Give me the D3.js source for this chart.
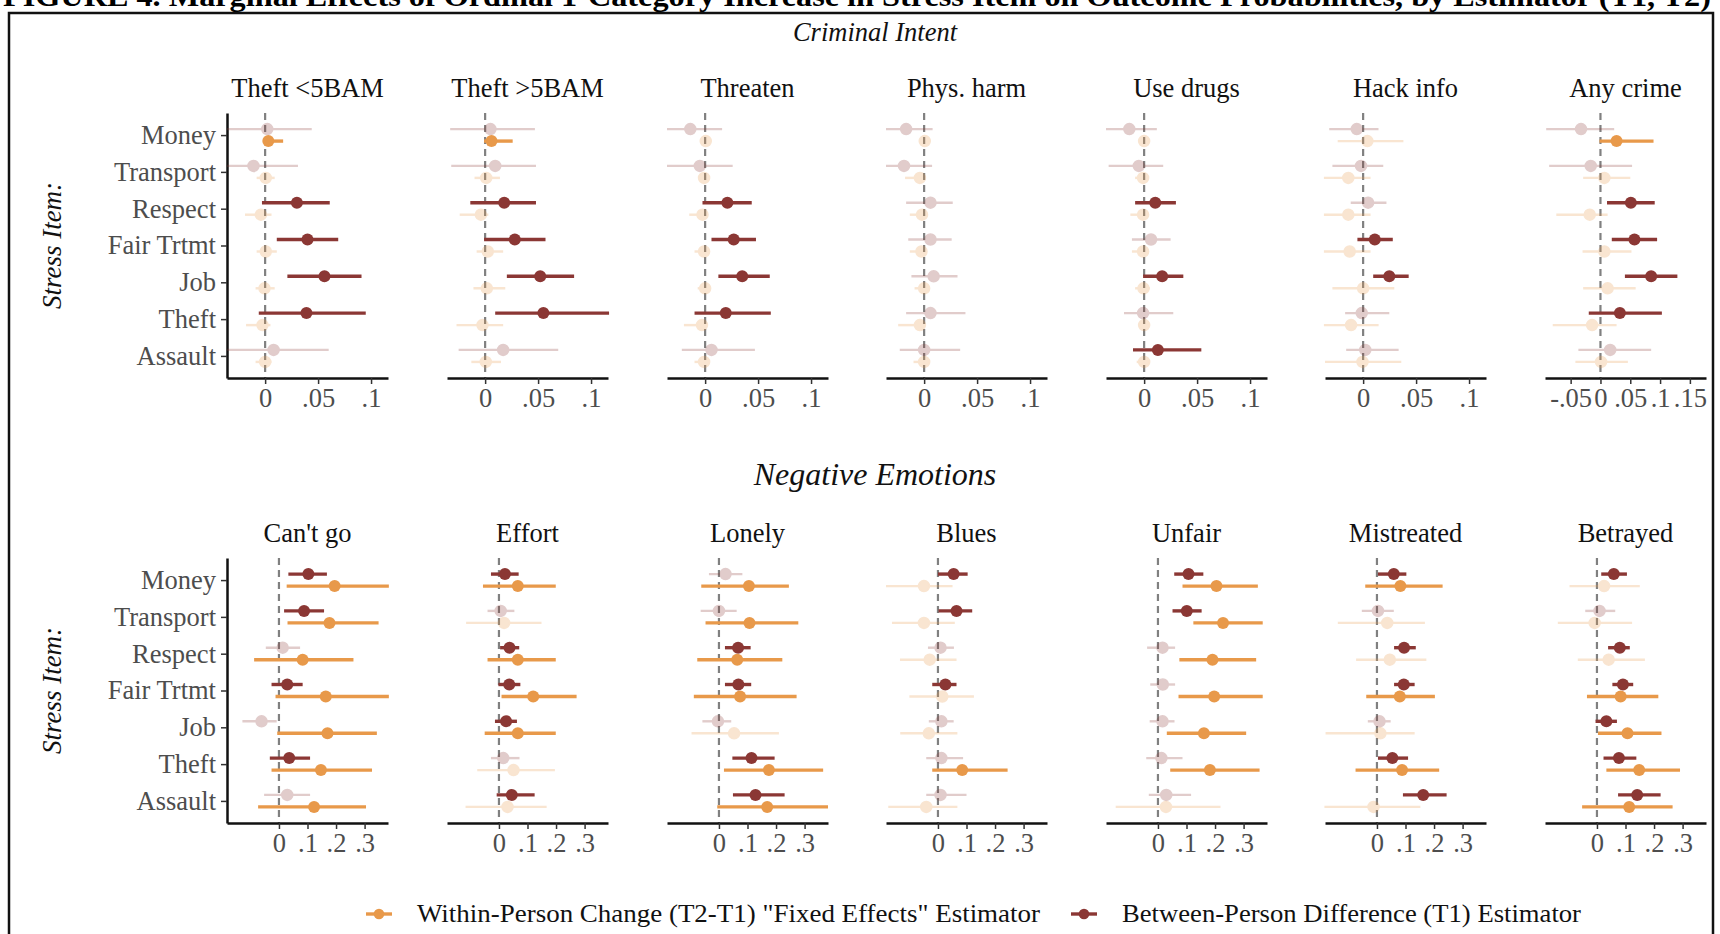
<!DOCTYPE html>
<html><head><meta charset="utf-8">
<script src="https://cdn.jsdelivr.net/npm/d3@7"></script>
<style>
html,body{margin:0;padding:0;background:#fff;}
svg{display:block;font-family:"Liberation Serif","Times New Roman",serif;}
</style></head>
<body>
<svg id="chart" width="1720" height="934"></svg>
<script>
// ---------------- DATA ----------------
const figureTitle = "FIGURE 4. Marginal Effects of Ordinal 1-Category Increase in Stress Item on Outcome Probabilities, by Estimator (T1, T2)";
const sections = ["Criminal Intent", "Negative Emotions"];
const outcomes = ["Theft <5BAM","Theft >5BAM","Threaten","Phys. harm","Use drugs","Hack info","Any crime",
                  "Can't go","Effort","Lonely","Blues","Unfair","Mistreated","Betrayed"];
const items = ["Money","Transport","Respect","Fair Trtmt","Job","Theft","Assault"];
const seriesNames = ["Within-Person Change (T2-T1)  \"Fixed Effects\" Estimator", "Between-Person Difference (T1) Estimator"];
const yAxisTitle = "Stress Item:";

const topTicks = [0, 0.05, 0.1];
const topTickLabels = ["0", ".05", ".1"];
const anyCrimeTicks = [-0.05, 0, 0.05, 0.1, 0.15];
const anyCrimeTickLabels = ["-.05", "0", ".05", ".1", ".15"];
const bottomTicks = [0, 0.1, 0.2, 0.3];
const bottomTickLabels = ["0", ".1", ".2", ".3"];

// Between-person (T1) estimator
const betweenEst = [
 [0.002,-0.011,0.030,0.040,0.056,0.039,0.008],
 [0.005,0.0095,0.018,0.028,0.052,0.055,0.017],
 [-0.014,-0.005,0.021,0.027,0.035,0.0195,0.006],
 [-0.017,-0.019,0.006,0.006,0.009,0.006,0.000],
 [-0.014,-0.005,0.0105,0.0065,0.017,-0.001,0.013],
 [-0.006,-0.002,0.0047,0.011,0.0247,-0.0013,0.002],
 [-0.0326,-0.0163,0.051,0.057,0.085,0.0326,0.0163],
 [0.103,0.088,0.013,0.029,-0.061,0.036,0.029],
 [0.021,0.006,0.037,0.036,0.025,0.015,0.045],
 [0.023,0.000,0.067,0.068,-0.0035,0.114,0.128],
 [0.055,0.065,0.009,0.026,0.012,0.012,0.009],
 [0.107,0.101,0.016,0.017,0.016,0.012,0.029],
 [0.059,0.0035,0.095,0.094,0.009,0.054,0.162],
 [0.059,0.009,0.080,0.091,0.033,0.077,0.141]];
const betweenLo = [
 [-0.036,-0.036,-0.003,0.011,0.021,-0.006,-0.036],
 [-0.033,-0.032,-0.014,-0.001,0.0205,0.0095,-0.025],
 [-0.036,-0.036,-0.0025,0.006,0.0125,-0.010,-0.022],
 [-0.036,-0.036,-0.017,-0.015,-0.012,-0.017,-0.023],
 [-0.036,-0.0335,-0.0085,-0.0115,-0.001,-0.019,-0.0105],
 [-0.032,-0.029,-0.0117,-0.0054,0.0095,-0.017,-0.016],
 [-0.091,-0.086,0.011,0.019,0.041,-0.0196,-0.037],
 [0.033,0.018,-0.046,-0.026,-0.128,-0.032,-0.052],
 [-0.028,-0.040,0.004,-0.002,-0.014,-0.028,-0.008],
 [-0.035,-0.064,0.021,0.021,-0.058,0.047,0.049],
 [0.000,0.002,-0.035,-0.020,-0.032,-0.041,-0.041],
 [0.057,0.051,-0.038,-0.027,-0.029,-0.041,-0.032],
 [0.0035,-0.053,0.060,0.060,-0.032,0.0035,0.091],
 [0.015,-0.041,0.039,0.054,-0.005,0.023,0.074]];
const betweenHi = [
 [0.044,0.031,0.061,0.069,0.091,0.095,0.060],
 [0.047,0.048,0.048,0.057,0.084,0.117,0.069],
 [0.016,0.026,0.044,0.048,0.061,0.062,0.047],
 [0.008,0.0075,0.027,0.026,0.0315,0.039,0.034],
 [0.012,0.018,0.030,0.025,0.037,0.0275,0.054],
 [0.0145,0.019,0.022,0.028,0.043,0.0247,0.0335],
 [0.023,0.053,0.091,0.095,0.129,0.103,0.085],
 [0.168,0.158,0.074,0.083,-0.008,0.109,0.109],
 [0.069,0.054,0.071,0.075,0.063,0.072,0.125],
 [0.082,0.062,0.111,0.113,0.043,0.195,0.230],
 [0.104,0.120,0.056,0.065,0.055,0.088,0.100],
 [0.159,0.153,0.060,0.060,0.058,0.086,0.116],
 [0.103,0.059,0.136,0.132,0.048,0.109,0.244],
 [0.105,0.064,0.115,0.127,0.070,0.138,0.223]];
const betweenSig = [
 [0,0,1,1,1,1,0],[0,0,1,1,1,1,0],[0,0,1,1,1,1,0],[0,0,0,0,0,0,0],
 [0,0,1,0,1,0,1],[0,0,0,1,1,0,0],[0,0,1,1,1,1,0],
 [1,1,0,1,0,1,0],[1,0,1,1,1,0,1],[0,0,1,1,0,1,1],[1,1,0,1,0,0,0],
 [1,1,0,0,0,0,0],[1,0,1,1,0,1,1],[1,0,1,1,1,1,1]];

// Within-person change (T2-T1) "fixed effects" estimator
const withinEst = [
 [0.003,0.0006,-0.004,0.0006,-0.0006,-0.0025,0.000],
 [0.006,0.001,-0.004,0.0025,0.0016,-0.0025,0.0006],
 [0.0006,-0.001,-0.0025,-0.001,0.000,-0.003,-0.001],
 [0.0006,-0.004,-0.002,-0.0025,0.000,-0.004,0.000],
 [0.000,-0.001,-0.001,-0.001,-0.0006,0.000,0.000],
 [0.004,-0.014,-0.014,-0.0127,0.000,-0.0114,-0.0006],
 [0.027,0.0065,-0.018,0.0065,0.012,-0.014,0.001],
 [0.195,0.177,0.083,0.164,0.170,0.147,0.123],
 [0.066,0.018,0.066,0.120,0.066,0.051,0.030],
 [0.105,0.107,0.064,0.074,0.053,0.175,0.169],
 [-0.049,-0.049,-0.029,0.015,-0.032,0.085,-0.041],
 [0.205,0.228,0.191,0.197,0.161,0.182,0.028],
 [0.082,0.036,0.045,0.080,0.012,0.088,-0.012],
 [0.025,-0.008,0.041,0.083,0.107,0.148,0.113]];
const withinLo = [
 [0.000,-0.008,-0.019,-0.008,-0.009,-0.018,-0.009],
 [-0.001,-0.010,-0.024,-0.008,-0.011,-0.027,-0.013],
 [-0.0025,-0.006,-0.015,-0.010,-0.007,-0.020,-0.010],
 [-0.004,-0.018,-0.0135,-0.0135,-0.009,-0.0245,-0.010],
 [-0.004,-0.0085,-0.013,-0.0115,-0.0085,-0.004,-0.007],
 [-0.024,-0.037,-0.037,-0.037,-0.029,-0.037,-0.036],
 [-0.0016,-0.029,-0.074,-0.030,-0.029,-0.080,-0.042],
 [0.027,0.030,-0.087,-0.012,-0.006,-0.026,-0.073],
 [-0.056,-0.115,-0.040,0.009,-0.050,-0.076,-0.117],
 [-0.062,-0.047,-0.076,-0.088,-0.096,0.0175,-0.006],
 [-0.182,-0.161,-0.133,-0.100,-0.132,-0.020,-0.174],
 [0.086,0.124,0.075,0.072,0.031,0.043,-0.148],
 [-0.041,-0.137,-0.073,-0.0375,-0.180,-0.075,-0.184],
 [-0.096,-0.137,-0.067,-0.035,0.0035,0.033,-0.052]];
const withinHi = [
 [0.017,0.009,0.006,0.011,0.009,0.005,0.006],
 [0.026,0.014,0.003,0.017,0.019,0.017,0.015],
 [0.004,0.003,0.001,0.003,0.005,0.002,0.003],
 [0.004,0.001,0.002,0.002,0.005,0.0006,0.005],
 [0.003,0.003,0.0025,0.003,0.0055,0.003,0.0055],
 [0.038,0.007,0.007,0.007,0.0294,0.0146,0.036],
 [0.089,0.050,0.012,0.052,0.059,0.027,0.046],
 [0.385,0.349,0.261,0.385,0.343,0.326,0.305],
 [0.199,0.149,0.199,0.272,0.199,0.196,0.167],
 [0.245,0.278,0.222,0.272,0.210,0.365,0.382],
 [0.051,0.059,0.065,0.126,0.068,0.244,0.068],
 [0.350,0.367,0.344,0.367,0.309,0.356,0.219],
 [0.230,0.168,0.173,0.203,0.132,0.218,0.152],
 [0.150,0.123,0.168,0.215,0.226,0.291,0.265]];
const withinSig = [
 [1,0,0,0,0,0,0],[1,0,0,0,0,0,0],[0,0,0,0,0,0,0],[0,0,0,0,0,0,0],
 [0,0,0,0,0,0,0],[0,0,0,0,0,0,0],[1,0,0,0,0,0,0],
 [1,1,1,1,1,1,1],[1,0,1,1,1,0,0],[1,1,1,1,0,1,1],[0,0,0,0,0,1,0],
 [1,1,1,1,1,1,0],[1,0,0,1,0,1,0],[0,0,0,1,1,1,1]];

// ---------------- STYLE / LAYOUT ----------------
const colWithin = "#E8994A";
const colBetween = "#8B3734";
const fadeOpacity = 0.25;
const panelW = 161;
const panelLeft = [227, 447, 667, 886, 1106, 1325, 1545];
const rowTop = [113, 558];
const panelH = 265;
const font = "'Liberation Serif','Times New Roman',serif";
const fs = 26.5;

const svg = d3.select("#chart");

// frame
svg.append("rect").attr("x",9).attr("y",13).attr("width",1704).attr("height",960)
  .attr("fill","none").attr("stroke","#111").attr("stroke-width",2.5);

// figure title (cut off at top in the reference)
svg.append("text").attr("x",3).attr("y",6)
  .attr("font-size",30).attr("font-weight","bold").attr("fill","#000")
  .attr("textLength",1708).attr("lengthAdjust","spacingAndGlyphs")
  .text(figureTitle);

// section titles
svg.append("text").attr("x",875).attr("y",41).attr("text-anchor","middle")
  .attr("font-size",26.5).attr("font-style","italic").attr("fill","#111").text(sections[0]);
svg.append("text").attr("x",875).attr("y",485).attr("text-anchor","middle")
  .attr("font-size",32).attr("font-style","italic").attr("fill","#111").text(sections[1]);

outcomes.forEach((name, p) => {
  const row = p < 7 ? 0 : 1;
  const col = p % 7;
  const x0 = panelLeft[col];
  const top = rowTop[row];
  const bottom = top + panelH;
  let domain, ticks, labels;
  if (row === 1) { domain = [-0.182, 0.382]; ticks = bottomTicks; labels = bottomTickLabels; }
  else if (p === 6) { domain = [-0.093, 0.177]; ticks = anyCrimeTicks; labels = anyCrimeTickLabels; }
  else { domain = [-0.036, 0.116]; ticks = topTicks; labels = topTickLabels; }

  const x = d3.scaleLinear().domain(domain).range([x0, x0 + panelW]);
  const y = d3.scalePoint().domain(items).range([top, bottom]).padding(0.6);

  const g = svg.append("g");

  // strip title
  g.append("text").attr("x", x0 + panelW/2).attr("y", top - 16)
    .attr("text-anchor","middle").attr("font-size",fs).attr("fill","#111").text(name);

  // zero reference line
  g.append("line").attr("x1", x(0)).attr("x2", x(0)).attr("y1", top).attr("y2", bottom)
    .attr("stroke","#808080").attr("stroke-width",2.2).attr("stroke-dasharray","7,5");

  // x axis
  const xa = g.append("g").attr("transform",`translate(0,${bottom})`)
    .call(d3.axisBottom(x).tickValues(ticks).tickFormat((d,i) => labels[i]).tickSize(6).tickPadding(4).tickSizeOuter(0));
  xa.select(".domain").attr("stroke","#111").attr("stroke-width",2.5);
  xa.selectAll(".tick line").attr("stroke","#333").attr("stroke-width",1.5);
  xa.selectAll(".tick text").attr("font-family",font).attr("font-size",fs).attr("fill","#4d4d4d");

  // y axis for first column only
  if (col === 0) {
    const ya = g.append("g").attr("transform",`translate(${x0},0)`)
      .call(d3.axisLeft(y).tickSize(6).tickPadding(5).tickSizeOuter(0));
    ya.select(".domain").attr("stroke","#111").attr("stroke-width",2.5);
    ya.selectAll(".tick line").attr("stroke","#333").attr("stroke-width",1.5);
    ya.selectAll(".tick text").attr("font-family",font).attr("font-size",fs).attr("fill","#4d4d4d");
    g.append("text").attr("transform",`translate(${61},${(top+bottom)/2}) rotate(-90)`)
      .attr("text-anchor","middle").attr("font-size",27).attr("font-style","italic")
      .attr("fill","#111").text(yAxisTitle);
  }

  // marks
  const recs = [];
  items.forEach((it, i) => {
    recs.push({item: it, off: -6, est: betweenEst[p][i], lo: betweenLo[p][i], hi: betweenHi[p][i], sig: betweenSig[p][i], color: colBetween});
    recs.push({item: it, off: 6, est: withinEst[p][i], lo: withinLo[p][i], hi: withinHi[p][i], sig: withinSig[p][i], color: colWithin});
  });
  recs.sort((a,b) => a.sig - b.sig);
  const m = g.selectAll("g.mark").data(recs).join("g").attr("class","mark")
    .attr("opacity", d => d.sig ? 1 : fadeOpacity);
  m.append("line")
    .attr("x1", d => x(d.lo)).attr("x2", d => x(d.hi))
    .attr("y1", d => y(d.item) + d.off).attr("y2", d => y(d.item) + d.off)
    .attr("stroke", d => d.color).attr("stroke-width", d => d.sig ? 3.4 : 2.4);
  m.append("circle")
    .attr("cx", d => x(d.est)).attr("cy", d => y(d.item) + d.off)
    .attr("r", d => d.sig ? 6 : 5.5)
    .attr("fill", d => d.color)
    .attr("stroke", d => d.color).attr("stroke-opacity", d => d.sig ? 0 : 1).attr("stroke-width", 1.5);
});

// legend
const legendX = [366, 1071];
const legendCol = [colWithin, colBetween];
seriesNames.forEach((s, i) => {
  const lg = svg.append("g").attr("transform", `translate(${legendX[i]},914)`);
  lg.append("line").attr("x1",0).attr("x2",26).attr("y1",0).attr("y2",0)
    .attr("stroke",legendCol[i]).attr("stroke-width",3.4);
  lg.append("circle").attr("cx",13).attr("cy",0).attr("r",5.3).attr("fill",legendCol[i]);
  lg.append("text").attr("x",51).attr("y",8).attr("font-size",25).attr("fill","#111")
    .attr("textLength", i === 0 ? 623 : 459).attr("lengthAdjust","spacingAndGlyphs")
    .text(s);
});
</script>
</body></html>
